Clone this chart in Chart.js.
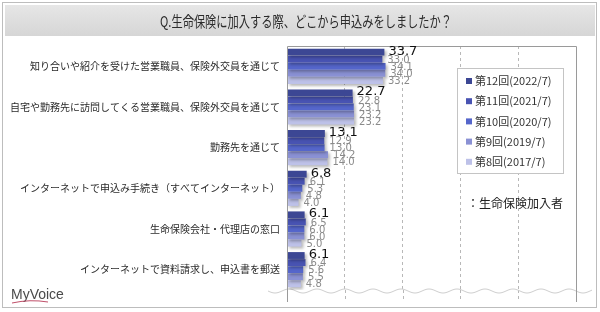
<!DOCTYPE html>
<html>
<head>
<meta charset="utf-8">
<script src="https://cdn.jsdelivr.net/npm/chart.js@4.4.1/dist/chart.umd.min.js"></script>
<style>
  html, body { margin: 0; padding: 0; background: #fff; }
  #wrap { width: 600px; height: 312px; position: relative; }
</style>
</head>
<body>
<div id="wrap"><canvas id="chart" width="600" height="312"></canvas></div>
<script>
const categories = [
    '知り合いや紹介を受けた営業職員、保険外交員を通じて',
    '自宅や勤務先に訪問してくる営業職員、保険外交員を通じて',
    '勤務先を通じて',
    'インターネットで申込み手続き（すべてインターネット）',
    '生命保険会社・代理店の窓口',
    'インターネットで資料請求し、申込書を郵送'
]
const seriesNames = ['第12回(2022/7)', '第11回(2021/7)', '第10回(2020/7)', '第9回(2019/7)', '第8回(2017/7)']
const vals12 = [33.7, 22.7, 13.1, 6.8, 6.1, 6.1]
const vals11 = [33.0, 22.8, 12.9, 6.1, 6.5, 6.4]
const vals10 = [34.1, 23.1, 13.0, 5.3, 6.0, 5.6]
const vals9 = [34.0, 23.2, 14.2, 4.8, 6.0, 5.5]
const vals8 = [33.2, 23.2, 14.0, 4.0, 5.0, 4.8]
const xTicks = [0, 20, 40, 60, 80, 100]

const colors = ['#3c4794', '#4853b2', '#5566cb', '#8a91d4', '#bdc1e8']
const jp = '"Noto Sans CJK JP", "Noto Sans", sans-serif'

// frame, title band, plot border, wave, legend, note, logo
const decor = {
    id: 'decor',
    beforeDraw(chart) {
        const ctx = chart.ctx
        ctx.save()
        ctx.fillStyle = '#fff'
        ctx.fillRect(0, 0, 600, 312)
        ctx.strokeStyle = '#bdbdbd'
        ctx.lineWidth = 1
        ctx.strokeRect(2.5, 2.5, 594, 305)
        const g = ctx.createLinearGradient(0, 5, 0, 36)
        g.addColorStop(0, '#e6e6e6')
        g.addColorStop(1, '#d6d6d6')
        ctx.fillStyle = g
        ctx.fillRect(5, 5, 590, 31)
        ctx.fillStyle = '#2b2b2b'
        ctx.font = '15px ' + jp
        ctx.textAlign = 'center'
        ctx.textBaseline = 'middle'
        ctx.fillText('Q.生命保険に加入する際、どこから申込みをしましたか？', 306, 21, 292)

        // grid lines continue below the plot area down to the break
        const a = chart.chartArea
        const xs = chart.scales.x
        ctx.strokeStyle = '#b8b8b8'
        ctx.setLineDash([3, 3])
        xTicks.slice(1, -1).forEach(v => {
            const x = Math.round(xs.getPixelForValue(v)) + 0.5
            ctx.beginPath()
            ctx.moveTo(x, a.bottom)
            ctx.lineTo(x, 302)
            ctx.stroke()
        })
        ctx.restore()
    },
    beforeDatasetsDraw(chart) {
        const ctx = chart.ctx
        ctx.save()
        // wavy break line
        ctx.strokeStyle = '#cfcfcf'
        ctx.lineWidth = 1
        ctx.beginPath()
        for (let x = 268; x <= 592; x++) {
            const y = 291 + 2 * Math.sin((x - 268) / 28 * Math.PI * 2)
            if (x === 268) ctx.moveTo(x, y)
            else ctx.lineTo(x, y)
        }
        ctx.stroke()
        ctx.restore()
        ctx.save()
        ctx.shadowColor = 'rgba(0,0,0,0.28)'
        ctx.shadowOffsetX = 2
        ctx.shadowOffsetY = 2
        ctx.shadowBlur = 3
    },
    afterDatasetsDraw(chart) {
        const ctx = chart.ctx
        ctx.restore()
        const a = chart.chartArea
        ctx.save()
        ctx.strokeStyle = '#9a9a9a'
        ctx.lineWidth = 1
        ctx.beginPath()
        ctx.moveTo(Math.round(a.left) + 0.5, 302)
        ctx.lineTo(Math.round(a.left) + 0.5, Math.round(a.top) + 0.5)
        ctx.lineTo(Math.round(a.right) + 0.5, Math.round(a.top) + 0.5)
        ctx.lineTo(Math.round(a.right) + 0.5, 302)
        ctx.stroke()

        // value labels
        ctx.textBaseline = 'middle'
        ctx.textAlign = 'left'
        chart.data.datasets.forEach((ds, i) => {
            const meta = chart.getDatasetMeta(i)
            meta.data.forEach((bar, j) => {
                const txt = ds.data[j].toFixed(1)
                if (i === 0) {
                    ctx.font = '13px "DejaVu Sans", sans-serif'
                    ctx.fillStyle = '#111'
                    ctx.fillText(txt, bar.x + 4, bar.y - 1)
                } else {
                    ctx.font = '10px "DejaVu Sans", sans-serif'
                    ctx.fillStyle = '#8a8a8a'
                    ctx.fillText(txt, bar.x + 5, bar.y + 1)
                }
            })
        })

        // legend
        ctx.fillStyle = '#fff'
        ctx.fillRect(457, 68, 106, 105)
        ctx.strokeStyle = '#c4c4c4'
        ctx.strokeRect(457.5, 68.5, 106, 105)
        ctx.font = '11px ' + jp
        chart.data.datasets.forEach((ds, i) => {
            const y = 81 + i * 20.2
            ctx.fillStyle = ds.backgroundColor
            ctx.fillRect(466, y - 3, 6, 6)
            ctx.fillStyle = '#333'
            ctx.fillText(ds.label, 475, y)
        })

        ctx.font = '12px ' + jp
        ctx.fillStyle = '#222'
        ctx.fillText('：生命保険加入者', 467, 203)

        // logo
        ctx.font = '14px "Liberation Sans", sans-serif'
        ctx.fillStyle = '#4a4a4a'
        ctx.fillText('MyVoice', 11, 295)
        ctx.strokeStyle = '#c0506a'
        ctx.lineWidth = 1
        ctx.beginPath()
        ctx.moveTo(12, 303)
        ctx.quadraticCurveTo(30, 299, 48, 302)
        ctx.stroke()
        ctx.restore()
    }
}

const ctx = document.getElementById('chart').getContext('2d')
const valueLists = [vals12, vals11, vals10, vals9, vals8]

new Chart(ctx, {
    type: 'bar',
    data: {
        labels: categories,
        datasets: valueLists.map((v, i) => ({
            label: seriesNames[i],
            data: v,
            backgroundColor: colors[i],
            borderWidth: 0,
            categoryPercentage: 0.87,
            barPercentage: 0.97
        }))
    },
    options: {
        indexAxis: 'y',
        responsive: false,
        animation: false,
        devicePixelRatio: 1,
        layout: { padding: { left: 0, top: 46, right: 24, bottom: 22 } },
        plugins: {
            legend: { display: false },
            tooltip: { enabled: false }
        },
        scales: {
            x: {
                min: xTicks[0],
                max: xTicks[xTicks.length - 1],
                afterBuildTicks: s => { s.ticks = xTicks.map(v => ({ value: v })) },
                ticks: { display: false },
                border: { display: false, dash: [3, 3] },
                grid: {
                    drawTicks: false,
                    color: c => (c.tick && (c.tick.value === 0 || c.tick.value === 100)) ? 'rgba(0,0,0,0)' : '#b8b8b8',
                    lineWidth: 1
                },
                afterFit: s => { s.height = 0 }
            },
            y: {
                border: { display: false },
                grid: { display: false, drawTicks: false },
                ticks: {
                    color: '#2a2a2a',
                    font: { family: jp, size: 10 },
                    padding: 7,
                    autoSkip: false
                },
                afterFit: s => { s.width = 287 }
            }
        }
    },
    plugins: [decor]
})
</script>
</body>
</html>
